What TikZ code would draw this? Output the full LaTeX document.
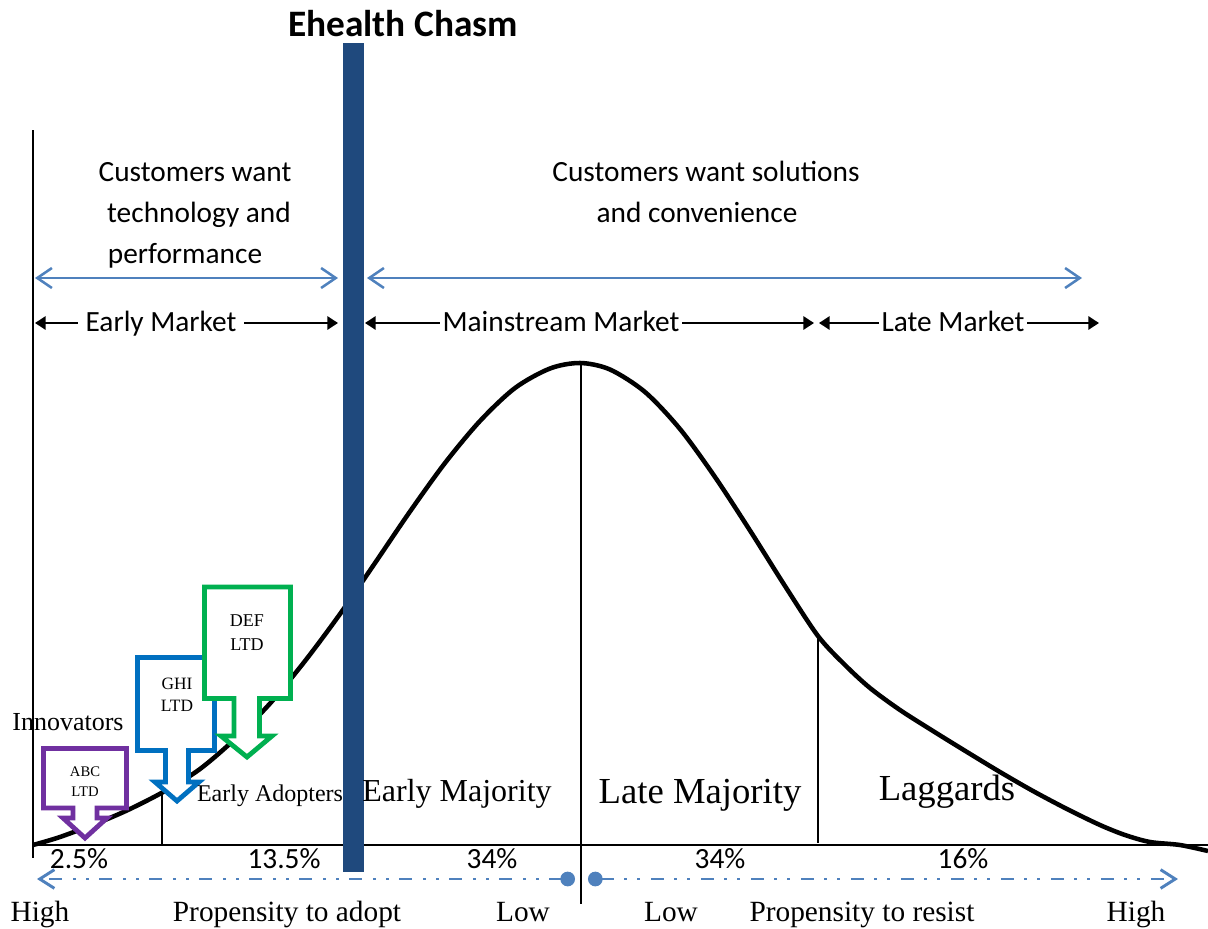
\documentclass[tikz,border=0pt]{standalone}
\usepackage{fontspec}
\setmainfont{Liberation Serif}
\newfontfamily\calib{Carlito}
\usetikzlibrary{arrows.meta}
\definecolor{chasm}{HTML}{1F497D}
\definecolor{lblue}{HTML}{4F81BD}
\definecolor{cpurple}{HTML}{7030A0}
\definecolor{cblue}{HTML}{0070C0}
\definecolor{cgreen}{HTML}{00B050}
\begin{document}
\begin{tikzpicture}[x=0.75pt,y=-0.75pt,
  cal/.style={font=\calib\fontsize{22}{26}\selectfont, inner sep=0pt},
  ser/.style={font=\fontsize{#1}{#1}\selectfont, inner sep=0pt},
  thinln/.style={line width=1.1pt},
  curveln/.style={line width=3.4pt, line join=round},
  callout/.style={line width=3.6pt, fill=white, line join=miter},
  bluearr/.style={draw=lblue, line width=1.9pt, {Straight Barb[length=11pt,width=15pt]}-{Straight Barb[length=11pt,width=15pt]}},
  blkarr/.style={line width=1.5pt, {Triangle[length=8pt,width=10pt]}-{Triangle[length=8pt,width=10pt]}},
  dashdot/.style={draw=lblue, line width=2.2pt, dash pattern=on 9.75pt off 7.5pt on 2.25pt off 7.5pt on 2.25pt off 8.25pt, {Circle[length=11pt]}-{Straight Barb[length=11pt,width=14pt]}},
  mk/.style={fill=white, inner xsep=2pt, inner ysep=1pt, font=\calib\fontsize{22}{26}\selectfont}
]
\useasboundingbox (0,0) rectangle (1208,929);

% frame lines
\coordinate (vt) at (33,130);
\coordinate (vb) at (33,858);
\draw[thinln] (vt) -- (vb);
\coordinate (ax0) at (33,845);
\coordinate (ax1) at (1208,845);
\draw[line width=1.5pt] (ax0) -- (ax1);

% bell curve
\draw[curveln] plot[smooth, tension=0.5] coordinates {
 (33,845) (60,837) (100,822) (130,809) (165,791) (200,769) (235,739) (270,703.5)
 (305,661) (340,614) (375,563) (410,511.5) (445,463) (480,421) (515,388) (550,368.5)
 (580,363) (610,369.5) (645,392) (680,429) (715,477) (750,530.5) (785,586) (818,636)
 (845,665) (870,688) (900,710) (933,731) (967,752) (1000,772) (1033,791) (1067,809)
 (1100,825) (1125,835) (1150,842) (1180,845) (1208,851)};

% dividers
\coordinate (d1t) at (162,794); \coordinate (d1b) at (162,846);
\draw[thinln] (d1t) -- (d1b);
\coordinate (d2t) at (581,363); \coordinate (d2b) at (581,904);
\draw[thinln] (d2t) -- (d2b);
\coordinate (d3t) at (818,638); \coordinate (d3b) at (818,843);
\draw[thinln] (d3t) -- (d3b);

% chasm bar
\fill[chasm] (343,43) rectangle (364,872);
\node[font=\calib\bfseries\fontsize{28}{32}\selectfont, anchor=base, inner sep=0pt] (title) at (403,36) {Ehealth Chasm};

% callouts
\draw[callout, draw=cpurple] (43.5,748.5) -- (126.5,748.5) -- (126.5,808) -- (97,808) -- (97,818) -- (107,818) -- (85,838) -- (63,818) -- (73,818) -- (73,808) -- (43.5,808) -- cycle;
\node[font=\fontsize{11}{15}\selectfont, align=center, inner sep=0pt] (abc) at (85,782) {ABC\\LTD};

\draw[callout, draw=cblue] (137.5,657.5) -- (214.5,657.5) -- (214.5,750.5) -- (188.5,750.5) -- (188.5,782) -- (199,782) -- (177,801) -- (155,782) -- (165.5,782) -- (165.5,750.5) -- (137.5,750.5) -- cycle;
\node[font=\fontsize{13}{16.5}\selectfont, align=center, inner sep=0pt] (ghi) at (177,695) {GHI\\LTD};

\draw[callout, draw=cgreen] (204.5,587) -- (290.5,587) -- (290.5,698.5) -- (259.5,698.5) -- (259.5,736) -- (272,736) -- (247,757) -- (221,736) -- (234,736) -- (234,698.5) -- (204.5,698.5) -- cycle;
\node[font=\fontsize{13.5}{18}\selectfont, align=center, inner sep=0pt] (def) at (247,633) {DEF\\LTD};

% top texts
\node[cal, anchor=base] (cw1) at (195,181) {Customers want};
\node[cal, anchor=base] (cw2) at (199,222) {technology and};
\node[cal, anchor=base] (cw3) at (185,263) {performance};
\node[cal, anchor=base] (cs1) at (706,181) {Customers want solutions};
\node[cal, anchor=base] (cs2) at (697,222) {and convenience};

% blue double arrows
\coordinate (b1l) at (35,278); \coordinate (b1r) at (338,278);
\coordinate (b2l) at (367,278); \coordinate (b2r) at (1082,278);
\draw[bluearr] (b1l) -- (b1r);
\draw[bluearr] (b2l) -- (b2r);

% market arrows
\coordinate (e1l) at (35,323); \coordinate (e1r) at (338,323);
\coordinate (e2l) at (365,323); \coordinate (e2r) at (814,323);
\coordinate (e3l) at (819,323); \coordinate (e3r) at (1099,323);
\draw[blkarr] (e1l) -- (e1r);
\draw[blkarr] (e2l) -- (e2r);
\draw[blkarr] (e3l) -- (e3r);
\node[mk, anchor=base] (em) at (161,331) {\,Early Market\,};
\node[mk, anchor=base] (mm) at (561,331) {Mainstream Market};
\node[mk, anchor=base] (lm) at (953,331) {Late Market};

% category labels
\node[ser=19.5, anchor=base] (inn) at (68,730) {Innovators};
\node[ser=18, anchor=base] (ea) at (270,801) {Early Adopters};
\node[ser=24, anchor=base] (emj) at (457,801) {Early Majority};
\node[ser=27.5, anchor=base] (lmj) at (700,803) {Late Majority};
\node[ser=27.5, anchor=base] (lag) at (947,800) {Laggards};

% percentages
\node[cal, anchor=base] (p1) at (79,868) {2.5\%};
\node[cal, anchor=base] (p2) at (284,868) {13.5\%};
\node[cal, anchor=base] (p3) at (492,868) {34\%};
\node[cal, anchor=base] (p4) at (720,868) {34\%};
\node[cal, anchor=base] (p5) at (963,868) {16\%};

% propensity arrows
\coordinate (la) at (575,879); \coordinate (lb) at (37,879);
\coordinate (ra) at (588,879); \coordinate (rb) at (1178,879);
\draw[dashdot] (la) -- (lb);
\draw[dashdot] (ra) -- (rb);

% bottom labels
\node[ser=22, anchor=base] (h1) at (40,921) {High};
\node[ser=22, anchor=base] (pa) at (287,921) {Propensity to adopt};
\node[ser=22, anchor=base] (lo1) at (523,921) {Low};
\node[ser=22, anchor=base] (lo2) at (671,921) {Low};
\node[ser=22, anchor=base] (pr) at (862,921) {Propensity to resist};
\node[ser=22, anchor=base] (h2) at (1136,921) {High};
\end{tikzpicture}
\end{document}
